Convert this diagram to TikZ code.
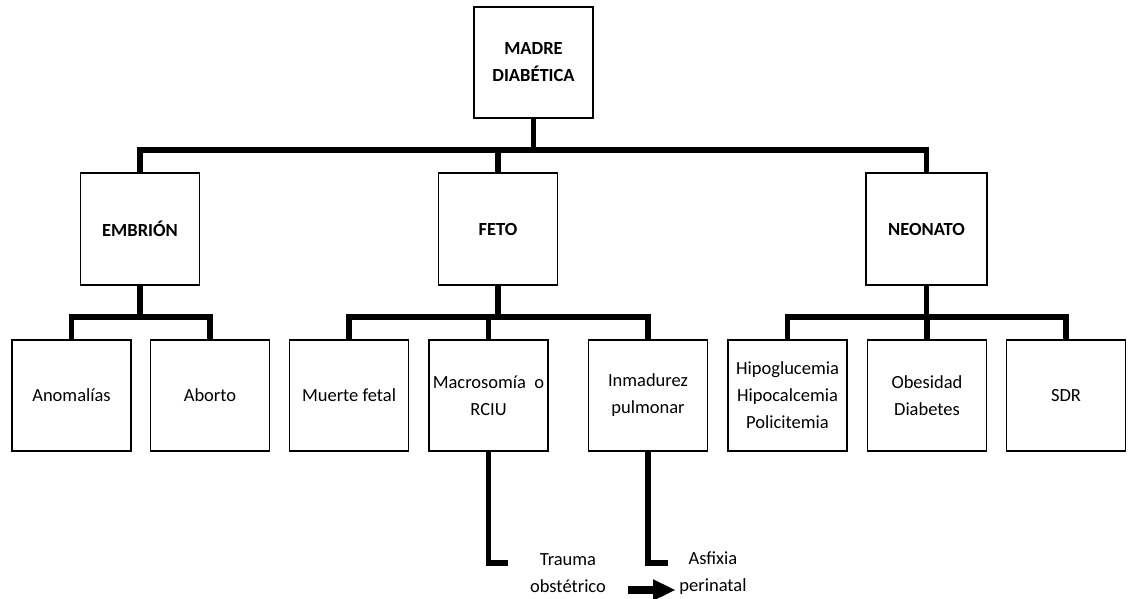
\documentclass[tikz,border=0pt]{standalone}
\usepackage{fontspec}
\setmainfont{Carlito}
\begin{document}
\begin{tikzpicture}[x=1pt,y=-1pt,
  box/.style={draw=black, line width=1.8pt, fill=white, minimum width=119pt, minimum height=111pt,
    inner sep=2pt, align=center, font=\fontsize{18.5}{27}\selectfont},
  bbox/.style={box, font=\fontsize{18.5}{27}\selectfont\bfseries},
  lbl/.style={align=center, inner sep=0pt, font=\fontsize{18.5}{27}\selectfont},
  bus/.style={line width=5.5pt, line join=miter, line cap=butt}]
\useasboundingbox (0,0) rectangle (1128,598);
% top
\node[bbox, minimum height=111pt] (md) at (533.5,62.5) {MADRE\\DIABÉTICA};
% level 2
\node[bbox, minimum height=112pt] (emb) at (140,229) {EMBRIÓN};
\node[bbox, minimum height=112pt] (feto) at (498,229) {FETO};
\node[bbox, minimum height=112pt, minimum width=121pt] (neo) at (926.5,229) {NEONATO};
% level 3
\node[box] (anom) at (71.5,395.5) {Anomalías};
\node[box] (abor) at (210,395.5) {Aborto};
\node[box] (muer) at (349,395.5) {Muerte fetal};
\node[box] (macro) at (488.5,395.5) {Macrosomía\ \ o\\RCIU};
\node[box] (inm) at (648,395.5) {Inmadurez\\pulmonar};
\node[box] (hipo) at (787.5,395.5) {Hipoglucemia\\Hipocalcemia\\Policitemia};
\node[box] (obes) at (927,395.5) {Obesidad\\Diabetes};
\node[box] (sdr) at (1066,395.5) {SDR};
% bottom texts
\node[lbl] (trauma) at (568,573.5) {Trauma\\obstétrico};
\node[lbl] (asfix) at (713,573.5) {Asfixia\\perinatal};
% bus levels
\coordinate (y1) at (0,150);
\coordinate (y2) at (0,317);
\coordinate (y3) at (0,563);
% level 1 -> 2
\draw[bus] (emb.north) -- (emb.north |- y1) -- (neo.north |- y1) -- (neo.north);
\draw[bus] (md.south) -- (md.south |- y1);
\draw[bus] (feto.north) -- (feto.north |- y1);
% embrion
\draw[bus] (anom.north) -- (anom.north |- y2) -- (abor.north |- y2) -- (abor.north);
\draw[bus] (emb.south) -- (emb.south |- y2);
% feto
\draw[bus] (muer.north) -- (muer.north |- y2) -- (inm.north |- y2) -- (inm.north);
\draw[bus] (feto.south) -- (feto.south |- y2);
\draw[bus] (macro.north) -- (macro.north |- y2);
% neonato
\draw[bus] (hipo.north) -- (hipo.north |- y2) -- (sdr.north |- y2) -- (sdr.north);
\draw[bus] (neo.south) -- (neo.south |- y2);
\draw[bus] (obes.north) -- (obes.north |- y2);
% bottom elbows
\coordinate (e1) at (508,563);
\coordinate (e2) at (668,563);
\draw[bus] (macro.south) -- (macro.south |- y3) -- (e1);
\draw[bus] (inm.south) -- (inm.south |- y3) -- (e2);
% block arrow
\coordinate (a0) at (628,590);
\fill[black] (a0) ++(0,-3.8) -- ++(25,0) -- ++(0,-7) -- ++(22,10.8) -- ++(-22,10.8) -- ++(0,-7) -- ++(-25,0) -- cycle;
\end{tikzpicture}
\end{document}
